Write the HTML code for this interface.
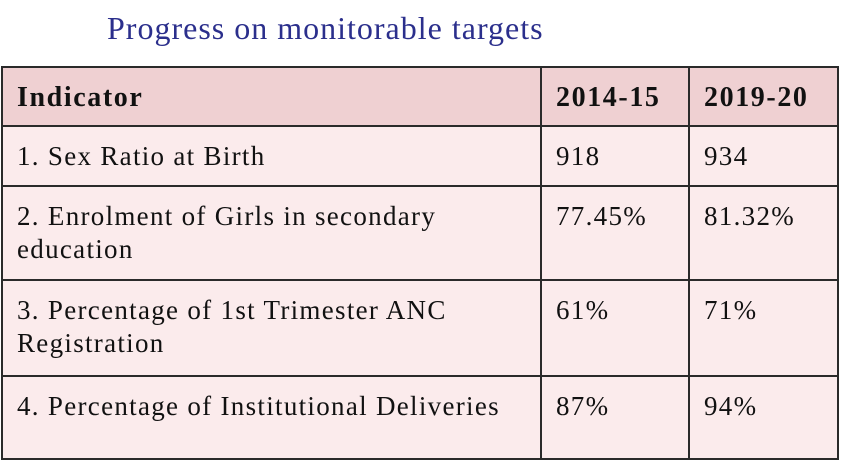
<!DOCTYPE html>
<html><head><meta charset="utf-8"><style>
body{margin:0;width:841px;height:462px;background:#fff;position:relative;overflow:hidden;font-family:"Liberation Serif",serif;color:#111}
.t{position:absolute;left:107px;top:10px;font-size:32px;letter-spacing:1px;color:#2b2f8c;white-space:nowrap}
.c{position:absolute;box-sizing:border-box;border:2px solid #2a2a2a;background:#fbebec;font-size:27px;letter-spacing:1.3px;line-height:33px;padding:13px 0 0 14px;white-space:nowrap}
.h{background:#efd0d2;font-weight:bold;font-size:28px;letter-spacing:1.6px;padding-top:13px}
</style></head><body>
<div class="t">Progress on monitorable targets</div>
<div>
<div class="c h" style="left:1px;top:66px;width:541px;height:61px">Indicator</div>
<div class="c h" style="left:540px;top:66px;width:150px;height:61px">2014-15</div>
<div class="c h" style="left:688px;top:66px;width:151px;height:61px">2019-20</div>

<div class="c" style="left:1px;top:125px;width:541px;height:62px">1. Sex Ratio at Birth</div>
<div class="c" style="left:540px;top:125px;width:150px;height:62px">918</div>
<div class="c" style="left:688px;top:125px;width:151px;height:62px">934</div>

<div class="c" style="left:1px;top:185px;width:541px;height:96px">2. Enrolment of Girls in secondary<br>education</div>
<div class="c" style="left:540px;top:185px;width:150px;height:96px">77.45%</div>
<div class="c" style="left:688px;top:185px;width:151px;height:96px">81.32%</div>

<div class="c" style="left:1px;top:279px;width:541px;height:98px">3. Percentage of 1st Trimester ANC<br>Registration</div>
<div class="c" style="left:540px;top:279px;width:150px;height:98px">61%</div>
<div class="c" style="left:688px;top:279px;width:151px;height:98px">71%</div>

<div class="c" style="left:1px;top:375px;width:541px;height:85px">4. Percentage of Institutional Deliveries</div>
<div class="c" style="left:540px;top:375px;width:150px;height:85px">87%</div>
<div class="c" style="left:688px;top:375px;width:151px;height:85px">94%</div>
</div>
</body></html>
